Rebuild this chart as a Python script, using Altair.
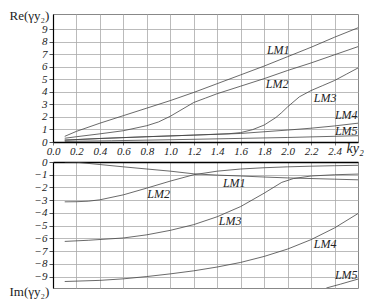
import altair as alt
import pandas as pd

# ---------------- data: Re(γy2) ----------------
re_lm1_x = [0.1, 0.2, 0.4, 0.6, 0.8, 1.0, 1.2, 1.4, 1.6, 1.8, 2.0, 2.2, 2.4, 2.6]
re_lm1_y = [0.45, 0.85, 1.5, 2.1, 2.7, 3.3, 3.95, 4.65, 5.35, 6.05, 6.8, 7.55, 8.35, 9.1]

re_lm2_x = [0.1, 0.2, 0.4, 0.6, 0.8, 0.9, 1.0, 1.1, 1.2, 1.3, 1.4, 1.6, 1.8, 2.0, 2.2, 2.4, 2.6]
re_lm2_y = [0.3, 0.42, 0.65, 0.9, 1.3, 1.6, 2.05, 2.6, 3.15, 3.5, 3.85, 4.45, 5.05, 5.7, 6.3, 6.95, 7.6]

re_lm3_x = [0.1, 0.4, 0.8, 1.2, 1.5, 1.6, 1.7, 1.8, 1.9, 1.95, 2.0, 2.1, 2.2, 2.3, 2.4, 2.5, 2.6]
re_lm3_y = [0.15, 0.28, 0.42, 0.55, 0.66, 0.75, 0.98, 1.35, 1.95, 2.35, 2.8, 3.6, 4.1, 4.5, 4.9, 5.4, 5.9]

re_lm4_x = [0.1, 0.4, 0.8, 1.2, 1.6, 2.0, 2.2, 2.4, 2.6]
re_lm4_y = [0.15, 0.28, 0.42, 0.55, 0.68, 0.95, 1.1, 1.28, 1.5]

re_lm5_x = [0.1, 0.5, 1.0, 1.5, 2.0, 2.6]
re_lm5_y = [0.05, 0.1, 0.18, 0.27, 0.36, 0.5]

# ---------------- data: Im(γy2) ----------------
im_lm1_x = [0.1, 0.2, 0.4, 0.6, 0.8, 1.0, 1.2, 1.4, 1.6, 1.8, 2.0, 2.2, 2.4, 2.6]
im_lm1_y = [0.0, -0.02, -0.2, -0.38, -0.55, -0.72, -0.93, -1.03, -1.1, -1.18, -1.25, -1.3, -1.35, -1.4]

im_lm2_x = [0.1, 0.2, 0.3, 0.4, 0.6, 0.8, 1.0, 1.2, 1.4, 1.6, 1.8, 2.0, 2.2, 2.4, 2.6]
im_lm2_y = [-3.13, -3.12, -3.08, -2.97, -2.58, -2.05, -1.5, -1.0, -0.72, -0.55, -0.45, -0.38, -0.33, -0.29, -0.26]

im_lm3_x = [0.1, 0.3, 0.6, 0.8, 1.0, 1.2, 1.4, 1.6, 1.8, 1.95, 2.05, 2.2, 2.4, 2.6]
im_lm3_y = [-6.24, -6.15, -5.97, -5.72, -5.37, -4.92, -4.3, -3.5, -2.45, -1.6, -1.3, -1.1, -1.0, -0.95]

im_lm4_x = [0.1, 0.4, 0.6, 0.8, 1.0, 1.2, 1.4, 1.6, 1.8, 2.0, 2.2, 2.4, 2.6]
im_lm4_y = [-9.39, -9.3, -9.18, -9.0, -8.79, -8.55, -8.25, -7.89, -7.42, -6.84, -6.1, -5.18, -4.05]

im_lm5_x = [2.33, 2.45, 2.6]
im_lm5_y = [-9.9, -9.6, -9.2]

# ---------------- annotation labels ----------------
label_names = ["LM1", "LM2", "LM3", "LM4", "LM5"]
re_label_x = [1.92, 1.91, 2.32, 2.5, 2.5]
re_label_y = [7.3, 4.6, 3.5, 2.13, 0.85]
im_label_x = [1.545, 0.90, 1.51, 2.32, 2.5]
im_label_y = [-1.66, -2.53, -4.66, -6.47, -8.84]

x_ticks = [0.0, 0.2, 0.4, 0.6, 0.8, 1.0, 1.2, 1.4, 1.6, 1.8, 2.0, 2.2, 2.4]
re_ticks = [0, 1, 2, 3, 4, 5, 6, 7, 8, 9]
im_ticks = [0, -1, -2, -3, -4, -5, -6, -7, -8, -9]


def frame(xs, ys, names):
    rows = []
    for n, xv, yv in zip(names, xs, ys):
        for a, b in zip(xv, yv):
            rows.append({"series": n, "x": a, "y": b})
    return pd.DataFrame(rows)


re_df = frame([re_lm1_x, re_lm2_x, re_lm3_x, re_lm4_x, re_lm5_x],
              [re_lm1_y, re_lm2_y, re_lm3_y, re_lm4_y, re_lm5_y], label_names)
im_df = frame([im_lm1_x, im_lm2_x, im_lm3_x, im_lm4_x, im_lm5_x],
              [im_lm1_y, im_lm2_y, im_lm3_y, im_lm4_y, im_lm5_y], label_names)
re_lab = pd.DataFrame({"name": label_names, "x": re_label_x, "y": re_label_y})
im_lab = pd.DataFrame({"name": label_names, "x": im_label_x, "y": im_label_y})

SERIF = "Liberation Serif"
W = 305
H_TOP = 128
H_BOT = 126
XDOM = [0, 2.6]

common_axis = dict(labelFont=SERIF, labelFontStyle="italic", labelColor="#222",
                   labelOverlap=False, labelFlush=False,
                   gridColor="#aaa", gridWidth=0.8,
                   titleFont=SERIF, titleFontWeight="normal", titleColor="#222")

x_top = alt.X(
    "x:Q",
    scale=alt.Scale(domain=XDOM, nice=False, zero=False),
    axis=alt.Axis(
        values=x_ticks, format=".1f", labelFontSize=11, labelPadding=0,
        tickSize=3, tickColor="#777", domainColor="#000", domainWidth=1.5,
        title="ky₂", titleFontStyle="italic", titleFontSize=14,
        titleX=W - 12, titleY=-1, titleAlign="left", titleBaseline="top",
        **common_axis,
    ),
)
y_top = alt.Y(
    "y:Q",
    scale=alt.Scale(domain=[0, 10.2], nice=False, zero=False),
    axis=alt.Axis(
        values=re_ticks, format="d", labelFontSize=11, labelPadding=2,
        tickSize=4, tickColor="#555", domainColor="#000", domainWidth=1.2,
        title="Re(γy₂)", titleFontSize=13, titleAngle=0,
        titleX=-44, titleY=-5, titleAlign="left", titleBaseline="top",
        **common_axis,
    ),
)
x_bot = alt.X(
    "x:Q",
    scale=alt.Scale(domain=XDOM, nice=False, zero=False),
    axis=alt.Axis(
        orient="top", values=x_ticks, labels=False, ticks=False,
        domainColor="#000", domainWidth=1.5, title=None,
        **common_axis,
    ),
)
y_bot = alt.Y(
    "y:Q",
    scale=alt.Scale(domain=[-9.9, 0], nice=False, zero=False),
    axis=alt.Axis(
        values=im_ticks, format="d", labelFontSize=11, labelPadding=2,
        tickSize=4, tickColor="#555", domainColor="#000", domainWidth=1.2,
        title="Im(γy₂)", titleFontSize=13, titleAngle=0,
        titleX=-44, titleY=H_BOT - 3, titleAlign="left", titleBaseline="top",
        **common_axis,
    ),
)

line_style = dict(color="#444", strokeWidth=0.8, clip=True)
text_style = dict(font=SERIF, fontStyle="italic", fontSize=12, color="#222",
                  align="center", baseline="middle")

top_lines = alt.Chart(re_df).mark_line(**line_style).encode(
    x=x_top, y=y_top, detail="series:N", order="x:Q")
top_text = alt.Chart(re_lab).mark_text(**text_style).encode(
    x=x_top, y=y_top, text="name:N")
top = alt.layer(top_lines, top_text).properties(width=W, height=H_TOP)

bot_lines = alt.Chart(im_df).mark_line(**line_style).encode(
    x=x_bot, y=y_bot, detail="series:N", order="x:Q")
bot_text = alt.Chart(im_lab).mark_text(**text_style).encode(
    x=x_bot, y=y_bot, text="name:N")
bot = alt.layer(bot_lines, bot_text).properties(width=W, height=H_BOT)

chart = alt.vconcat(top, bot, spacing=-2).properties(
    padding=0, background="white"
).configure_view(stroke="#888", strokeWidth=1).configure_axis(
    labelFont=SERIF, titleFont=SERIF, labelFontStyle="italic"
)

chart.save("out.html", embed_options={"renderer": "svg", "actions": False})
